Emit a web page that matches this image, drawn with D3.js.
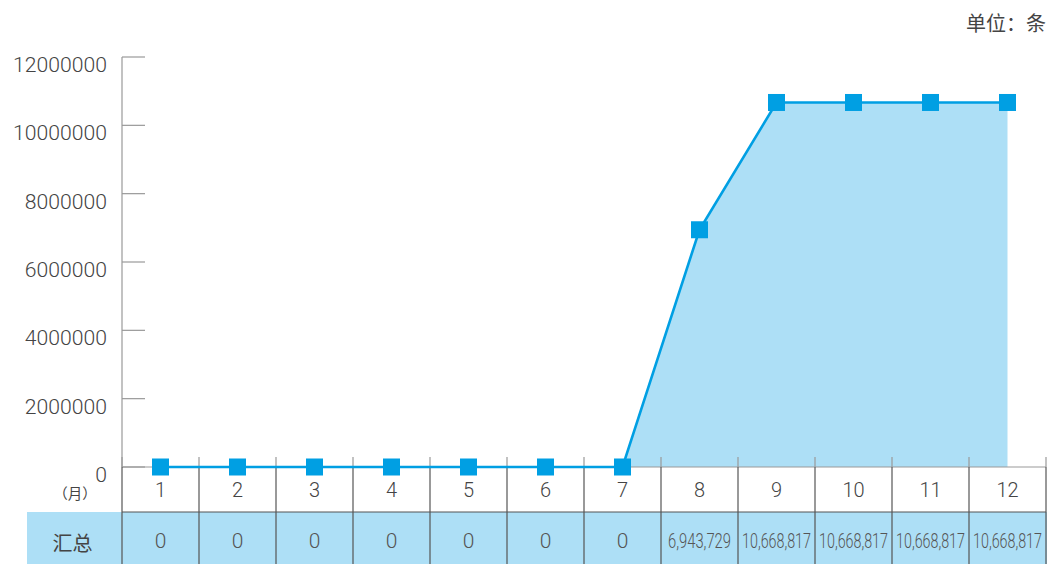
<!DOCTYPE html>
<html><head><meta charset="utf-8">
<script src="https://cdn.jsdelivr.net/npm/d3@7"></script>
<style>
html,body{margin:0;padding:0;background:#fff;}
svg{display:block;}
text{font-family:Roboto,"Liberation Sans",Arial,"Noto Sans CJK SC",sans-serif;font-weight:300;}
.cjk{font-family:"Noto Sans CJK SC","Liberation Sans",sans-serif;font-weight:400;}
</style></head>
<body>
<svg id="chart" width="1055" height="564"></svg>
<script>
const months = ["1","2","3","4","5","6","7","8","9","10","11","12"];
const values = [0,0,0,0,0,0,0,6943729,10668817,10668817,10668817,10668817];
const tableLabels = ["0","0","0","0","0","0","0","6,943,729","10,668,817","10,668,817","10,668,817","10,668,817"];
const yTicks = [0,2000000,4000000,6000000,8000000,10000000,12000000];
const unitLabel = "单位：条";
const monthUnit = "（月）";
const totalLabel = "汇总";

(function(){
const svg = d3.select("#chart");
const pLeft = 122, pRight = 1046, pTop = 57, base = 467, row1 = 512, pBottom = 564;
const x = d3.scaleBand().domain(months).range([pLeft, pRight]).padding(0);
const y = d3.scaleLinear().domain([0, 12000000]).range([base, pTop]);
const cx = m => x(m) + x.bandwidth()/2;
const data = months.map((m,i)=>({m, v: values[i]}));

// fit text horizontally by scaling around its anchor point
function fitX(sel, ax, ay, target){
  sel.each(function(d,i){
    const el = d3.select(this);
    const w = this.getComputedTextLength();
    const t = target(d,i);
    if(t && w > 0){
      const k = t / w;
      const px = ax(d,i), py = ay(d,i);
      el.attr("transform", `translate(${px},${py}) scale(${k},1) translate(${-px},${-py})`);
    }
  });
}

// table row 2 background
svg.append("rect").attr("x",27).attr("y",row1).attr("width",pRight+1-27).attr("height",pBottom-row1).attr("fill","#addff6");

// y axis line and ticks
svg.append("line").attr("x1",pLeft).attr("x2",pLeft).attr("y1",pTop).attr("y2",base).attr("stroke","#999").attr("stroke-width",1.2);
svg.selectAll(".ytick").data(yTicks).enter().append("line")
  .attr("x1",pLeft).attr("x2",pLeft+23).attr("y1",d=>y(d)).attr("y2",d=>y(d))
  .attr("stroke","#999").attr("stroke-width",1.2);
const ylab = svg.selectAll(".ylab").data(yTicks).enter().append("text")
  .attr("x",107).attr("y",d=>y(d)+15).attr("text-anchor","end")
  .attr("font-size",21).attr("fill","#444")
  .text(d=>d);
fitX(ylab, ()=>107, d=>y(d)+15, d=>String(d).length*11.75);

// area
const fillData = data.slice(6);
svg.append("path").datum(fillData)
  .attr("d", d3.area().x(d=>cx(d.m)).y0(base).y1(d=>y(d.v)))
  .attr("fill","#addff6");

// x baseline and boundary ticks
svg.append("line").attr("x1",pLeft).attr("x2",pRight).attr("y1",base).attr("y2",base).attr("stroke","#999").attr("stroke-width",1.2);
const bounds = months.map(m=>x(m)).concat([pRight]);
svg.selectAll(".xtick").data(bounds).enter().append("line")
  .attr("x1",d=>d).attr("x2",d=>d).attr("y1",base-10).attr("y2",base)
  .attr("stroke","#999").attr("stroke-width",1.2);

// table grid
svg.selectAll(".vgrid").data(bounds).enter().append("line")
  .attr("x1",d=>d).attr("x2",d=>d).attr("y1",base).attr("y2",pBottom)
  .attr("stroke","#555").attr("stroke-width",1.2);
svg.append("line").attr("x1",pLeft).attr("x2",pRight).attr("y1",row1).attr("y2",row1).attr("stroke","#555").attr("stroke-width",1.2);

// line
svg.append("path").datum(data)
  .attr("d", d3.line().x(d=>cx(d.m)).y(d=>y(d.v)))
  .attr("fill","none").attr("stroke","#009fe3").attr("stroke-width",2.6);
// markers
const s = 17;
svg.selectAll(".mk").data(data).enter().append("rect")
  .attr("x",d=>cx(d.m)-s/2).attr("y",d=>y(d.v)-s/2).attr("width",s).attr("height",s)
  .attr("fill","#009fe3");

// month labels
svg.selectAll(".mlab").data(months).enter().append("text")
  .attr("x",d=>cx(d)).attr("y",497).attr("text-anchor","middle")
  .attr("font-size",20).attr("fill","#444").text(d=>d);
// table values
const tv = svg.selectAll(".tval").data(tableLabels).enter().append("text")
  .attr("x",(d,i)=>cx(months[i])).attr("y",548).attr("text-anchor","middle")
  .attr("font-size",21).attr("fill","#555")
  .text(d=>d);
fitX(tv, (d,i)=>cx(months[i]), ()=>548, d=>d.length>3 ? (d.length>9?69:63) : 0);

svg.append("text").attr("class","cjk").attr("x",75).attr("y",499).attr("text-anchor","middle")
  .attr("font-size",14.5).attr("fill","#444").text(monthUnit);
svg.append("text").attr("class","cjk").attr("x",72.5).attr("y",551).attr("text-anchor","middle")
  .attr("font-size",20).attr("fill","#444").text(totalLabel);
svg.append("text").attr("class","cjk").attr("x",1046).attr("y",31).attr("text-anchor","end")
  .attr("font-size",20).attr("fill","#444").text(unitLabel);
})();
</script>
</body></html>
